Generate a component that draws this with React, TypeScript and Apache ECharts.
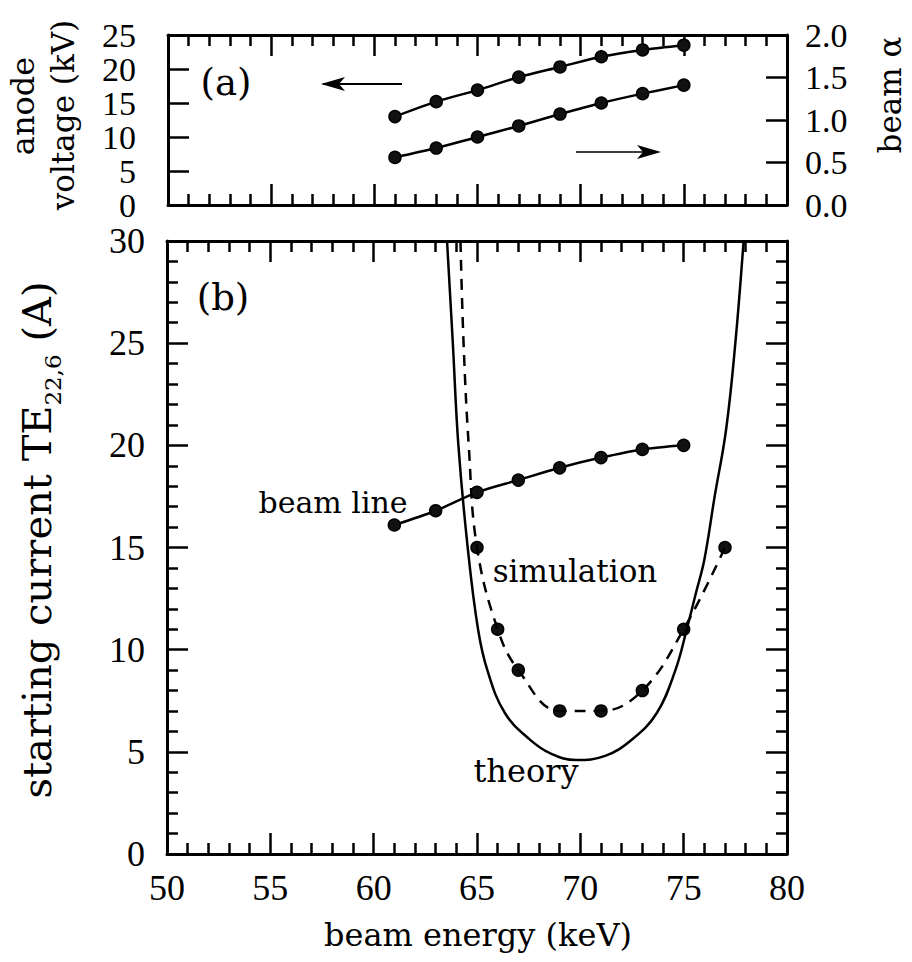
import React, { useEffect, useRef } from 'react';
import * as echarts from 'echarts';

// ---- data ----
const topEnergy = [61, 63, 65, 67, 69, 71, 73, 75];
const anodeVoltage = [13.0, 15.2, 16.9, 18.8, 20.3, 21.8, 22.8, 23.5];
const beamAlpha = [0.56, 0.67, 0.8, 0.93, 1.07, 1.2, 1.31, 1.41];

const beamLineEnergy = [61, 63, 65, 67, 69, 71, 73, 75];
const beamLineCurrent = [16.1, 16.8, 17.7, 18.3, 18.9, 19.4, 19.8, 20.0];

const simEnergy = [65, 66, 67, 69, 71, 73, 75, 77];
const simCurrent = [15, 11, 9, 7, 7, 8, 11, 15];
const simTailEnergy = [64.2, 64.35, 64.6];
const simTailCurrent = [30, 25, 20];

const theoryEnergy = [63.55, 63.83, 64.1, 64.55, 65.05, 65.5, 66.35, 67.56, 68.6, 69.8, 71.2, 72.5, 73.7, 74.6, 75.15, 75.6, 76.0, 76.5, 77.05, 77.5, 77.9];
const theoryCurrent = [30, 25, 20, 15, 11, 9, 6.9, 5.6, 4.9, 4.6, 4.8, 5.6, 6.9, 9, 11, 12.8, 14.4, 17.5, 20.75, 25, 30];

const energyTicks = [50, 55, 60, 65, 70, 75, 80];
const voltageTicks = [0, 5, 10, 15, 20, 25];
const alphaTicks = [0, 0.5, 1.0, 1.5, 2.0];
const currentTicks = [0, 5, 10, 15, 20, 25, 30];

const zip = (xs: number[], ys: number[]) => xs.map((x, i) => [x, ys[i]]);

const SERIF = '"DejaVu Serif", serif';
const DIGITS = '"Liberation Serif", "Times New Roman", serif';

export default function App() {
  const ref = useRef<HTMLDivElement>(null);
  useEffect(() => {
    if (!ref.current) return;
    const chart = echarts.init(ref.current, undefined, { renderer: 'svg' });
    const axisLine = { show: true, onZero: false, lineStyle: { color: '#000', width: 3 } };
    const tick = { show: true, inside: true, length: 21, lineStyle: { color: '#000', width: 2.5 } };
    const minor = { show: true, splitNumber: 5, length: 11, lineStyle: { color: '#000', width: 2.5 } };
    const noMinor = { show: false };
    const eMin = energyTicks[0];
    const eMax = energyTicks[energyTicks.length - 1];
    const eInt = energyTicks[1] - energyTicks[0];
    const xAx = (grid: number, pos: string, labels: boolean) => ({
      type: 'value', gridIndex: grid, position: pos, min: eMin, max: eMax, interval: eInt,
      axisLine, axisTick: tick, minorTick: minor, splitLine: { show: false }, minorSplitLine: { show: false },
      axisLabel: labels
        ? { show: true, fontFamily: DIGITS, fontSize: 36, color: '#000', margin: 16, lineHeight: 36 }
        : { show: false },
    });
    const yAx = (grid: number, pos: string, ticks: number[], labels: any, mt: any) => ({
      type: 'value', gridIndex: grid, position: pos, min: ticks[0], max: ticks[ticks.length - 1],
      interval: ticks[1] - ticks[0], axisLine, axisTick: tick, minorTick: mt,
      splitLine: { show: false }, minorSplitLine: { show: false }, axisLabel: labels,
    });
    const black = '#000';
    const marker = { color: '#111', borderColor: '#000', borderWidth: 1.5, opacity: 1 };
    const textStyle = (size: number) => ({ fontFamily: SERIF, fontSize: size, fill: '#000' });

    chart.setOption({
      animation: false,
      backgroundColor: '#fff',
      grid: [
        { left: 168, top: 35, width: 619, height: 170 },
        { left: 167, top: 241, width: 620, height: 613 },
      ],
      xAxis: [xAx(0, 'bottom', false), xAx(0, 'top', false), xAx(1, 'bottom', true), xAx(1, 'top', false)],
      yAxis: [
        yAx(0, 'left', voltageTicks, { show: true, fontFamily: DIGITS, fontSize: 34, color: '#000', margin: 32 }, noMinor),
        yAx(0, 'right', alphaTicks, { show: true, fontFamily: DIGITS, fontSize: 34, color: '#000', margin: 18, formatter: (v: number) => v.toFixed(1) }, noMinor),
        yAx(1, 'left', currentTicks, { show: true, fontFamily: DIGITS, fontSize: 36, color: '#000', margin: 22 }, minor),
        yAx(1, 'right', currentTicks, { show: false }, minor),
      ],
      series: [
        {
          type: 'line', xAxisIndex: 0, yAxisIndex: 0, data: zip(topEnergy, anodeVoltage), smooth: 0.3,
          symbol: 'circle', symbolSize: 12, itemStyle: marker, lineStyle: { color: black, width: 2.5 },
        },
        {
          type: 'line', xAxisIndex: 0, yAxisIndex: 1, data: zip(topEnergy, beamAlpha), smooth: 0.3,
          symbol: 'circle', symbolSize: 12, itemStyle: marker, lineStyle: { color: black, width: 2.5 },
        },
        {
          type: 'line', xAxisIndex: 2, yAxisIndex: 2, data: zip(theoryEnergy, theoryCurrent), smooth: 0.4,
          showSymbol: false, symbol: 'none', lineStyle: { color: black, width: 2.5 }, clip: true,
        },
        {
          type: 'line', xAxisIndex: 2, yAxisIndex: 2,
          data: zip(simTailEnergy, simTailCurrent).concat(zip(simEnergy, simCurrent)), smooth: 0.4,
          symbol: 'none', lineStyle: { color: black, width: 2.5, type: [11, 8] }, clip: true,
        },
        {
          type: 'scatter', xAxisIndex: 2, yAxisIndex: 2, data: zip(simEnergy, simCurrent),
          symbol: 'circle', symbolSize: 12, itemStyle: marker,
        },
        {
          type: 'line', xAxisIndex: 2, yAxisIndex: 2, data: zip(beamLineEnergy, beamLineCurrent), smooth: 0.3,
          symbol: 'circle', symbolSize: 12, itemStyle: marker, lineStyle: { color: black, width: 2.5 },
        },
      ],
      graphic: [
        // arrows in panel (a)
        { type: 'line', shape: { x1: 323, y1: 84, x2: 402, y2: 84 }, style: { stroke: black, lineWidth: 2 } },
        { type: 'polygon', shape: { points: [[321, 84], [345, 77], [339, 84], [345, 91]] }, style: { fill: black } },
        { type: 'line', shape: { x1: 576, y1: 152, x2: 658, y2: 152 }, style: { stroke: black, lineWidth: 1.5 } },
        { type: 'polygon', shape: { points: [[661, 152], [637, 145], [643, 152], [637, 159]] }, style: { fill: black } },
        // panel labels
        { type: 'text', x: 226, y: 82, style: { ...textStyle(37), text: '(a)', align: 'center', verticalAlign: 'middle' } },
        { type: 'text', x: 223, y: 297, style: { ...textStyle(37), text: '(b)', align: 'center', verticalAlign: 'middle' } },
        { type: 'text', x: 333, y: 502, style: { ...textStyle(30), text: 'beam line', align: 'center', verticalAlign: 'middle' } },
        { type: 'text', x: 575, y: 571, style: { ...textStyle(31), text: 'simulation', align: 'center', verticalAlign: 'middle' } },
        { type: 'text', x: 526, y: 771, style: { ...textStyle(32), text: 'theory', align: 'center', verticalAlign: 'middle' } },
        // axis titles
        { type: 'text', x: 478, y: 935, style: { ...textStyle(32), text: 'beam energy (keV)', align: 'center', verticalAlign: 'middle' } },
        { type: 'text', x: 23, y: 106, rotation: Math.PI / 2, style: { ...textStyle(32), text: 'anode', align: 'center', verticalAlign: 'middle' } },
        { type: 'text', x: 63, y: 115, rotation: Math.PI / 2, style: { ...textStyle(31), text: 'voltage (kV)', align: 'center', verticalAlign: 'middle' } },
        { type: 'text', x: 890, y: 95, rotation: Math.PI / 2, style: { ...textStyle(31), text: 'beam α', align: 'center', verticalAlign: 'middle' } },
        {
          type: 'text', x: 37, y: 540, rotation: Math.PI / 2,
          style: {
            text: '{a|starting current TE}{s|22,6}{a| (A)}', align: 'center', verticalAlign: 'middle',
            rich: {
              a: { fontFamily: SERIF, fontSize: 40, fill: '#000', lineHeight: 54 },
              s: { fontFamily: SERIF, fontSize: 23, fill: '#000', lineHeight: 24, verticalAlign: 'bottom' },
            },
          },
        },
      ],
    });
    return () => chart.dispose();
  }, []);
  return <div ref={ref} style={{ position: 'absolute', left: 0, top: 0, width: 912, height: 962, background: '#fff' }} />;
}
